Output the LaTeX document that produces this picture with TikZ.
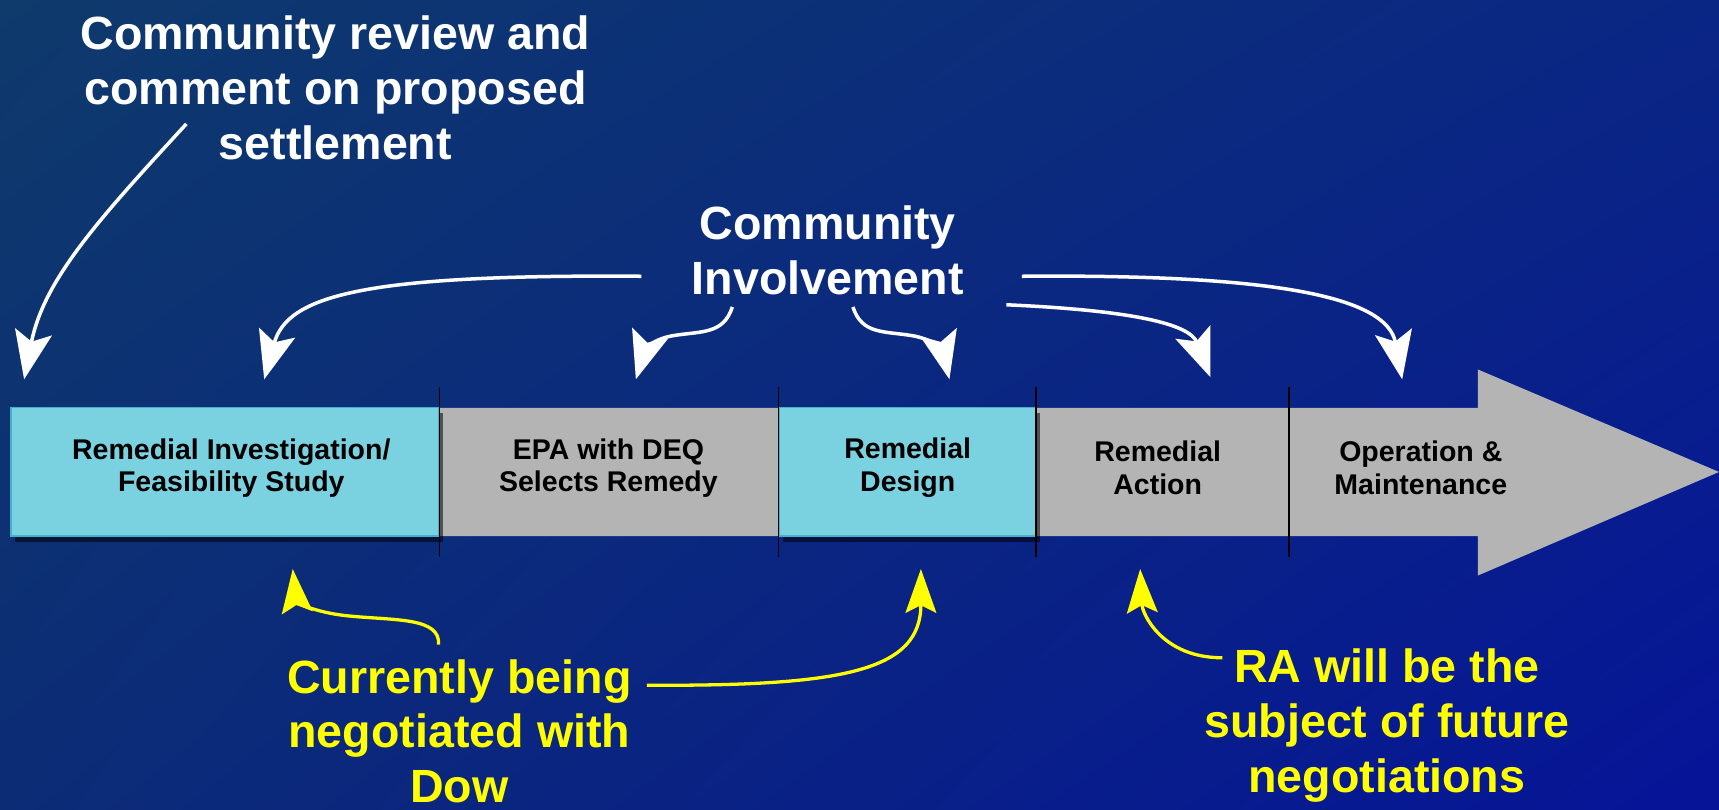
\documentclass[tikz,border=0pt]{standalone}
\usepackage{fontspec}
\setmainfont{Liberation Sans}
\usetikzlibrary{arrows.meta,shadows,shadings,calc}
\definecolor{bgTL}{RGB}{14,58,108}
\definecolor{bgTR}{RGB}{10,38,132}
\definecolor{bgBL}{RGB}{12,44,118}
\definecolor{bgBR}{RGB}{6,20,152}
\definecolor{cyanfill}{RGB}{122,209,224}
\definecolor{cyanedge}{RGB}{70,175,205}
\definecolor{barGray}{RGB}{180,180,180}
\definecolor{ylw}{RGB}{255,255,0}
\tikzset{
  bigtext/.style={font=\bfseries\fontsize{42.5}{50}\selectfont, align=center, inner sep=0pt},
  whitetext/.style={bigtext, text=white},
  yellowtext/.style={bigtext, text=ylw},
  boxtext/.style={font=\bfseries\fontsize{26}{30}\selectfont, align=center, text=black, inner sep=0pt},
  cyanbox/.style={fill=cyanfill, draw=cyanedge, line width=1.2pt, minimum height=117pt, inner sep=0pt,
     drop shadow={shadow xshift=4pt, shadow yshift=-5pt, opacity=0.55, fill=black}},
  graybox/.style={minimum height=117pt, inner sep=0pt},
  divider/.style={draw=black, line width=1.6pt},
  warrow/.style={draw=white, line width=3.2pt, -{Stealth[length=44pt,width=34pt,inset=9pt]}},
  yarrow/.style={draw=ylw, line width=3pt, -{Stealth[length=40pt,width=28pt,inset=7pt]}},
}
\begin{document}
\begin{tikzpicture}[x=1pt,y=-1pt]
\useasboundingbox (0,0) rectangle (1568,738);
\shade[upper left=bgTL, upper right=bgTR, lower left=bgBL, lower right=bgBR] (0,0) rectangle (1568,738);

% grey arrow body
\fill[barGray] (400,372) -- (1348,372) -- (1348,337) -- (1568,430.5) -- (1348,525) -- (1348,489) -- (400,489) -- cycle;

% stages
\node[cyanbox, minimum width=390pt] (ri) at (205,430.5) {};
\node[graybox, minimum width=310pt] (epa) at (555.5,430.5) {};
\node[cyanbox, minimum width=234pt] (rd) at (827.5,430.5) {};
\node[graybox, minimum width=231pt] (ra) at (1060.5,430.5) {};
\node[graybox, minimum width=172pt] (om) at (1262,430.5) {};

\node[boxtext] (riT) at (211,427) {Remedial Investigation/\\Feasibility Study};
\node[boxtext] (epaT) at (555,427) {EPA with DEQ\\Selects Remedy};
\node[boxtext] (rdT) at (828,427) {Remedial\\Design};
\node[boxtext] (raT) at (1056,427) {Remedial\\Action};
\node[boxtext] (omT) at (1296,427) {Operation \&\\Maintenance};

% dividers
\draw[divider] (401,353) -- (401,508);
\draw[divider] (710,353) -- (710,508);
\draw[divider] (945,353) -- (945,508);
\draw[divider] (1176,353) -- (1176,508);

% texts
\node[whitetext] (crc) at (306,80) {Community review and\\comment on proposed\\settlement};
\node[whitetext] (ci) at (755,228) {Community\\Involvement};
\node[yellowtext] (neg) at (419,667) {Currently being\\negotiated with\\Dow};
\node[yellowtext] (fut) at (1265,662) {RA will be the\\subject of future\\negotiations};

% coordinates
\coordinate (s1) at (170,113);  \coordinate (t1) at (22,346);
\coordinate (s2) at (585,252);  \coordinate (t2) at (241,346);
\coordinate (s3) at (668,280);  \coordinate (t3) at (580,346);
\coordinate (s4) at (778,280);  \coordinate (t4) at (866,346);
\coordinate (s5) at (918,278);  \coordinate (t5) at (1104,344);
\coordinate (s6) at (932,252);  \coordinate (t6) at (1279,346);
\coordinate (s7) at (400,588);  \coordinate (t7) at (267,519);
\coordinate (s8) at (590,625);  \coordinate (t8) at (840,519);
\coordinate (s9) at (1115,600); \coordinate (t9) at (1040,519);

% white arrows
\draw[warrow] (s1) .. controls (90,200) and (40,255) .. (t1);
\draw[warrow] (s2) .. controls (330,250) and (262,270) .. (t2);
\draw[warrow] (s3) .. controls (660,305) and (640,302) .. (615,306) .. controls (595,309) and (588,320) .. (t3);
\draw[warrow] (s4) .. controls (786,305) and (806,302) .. (831,306) .. controls (851,309) and (860,320) .. (t4);
\draw[warrow] (s5) .. controls (1030,283) and (1085,295) .. (t5);
\draw[warrow] (s6) .. controls (1160,250) and (1265,270) .. (t6);

% yellow arrows
\draw[yarrow] (s7) .. controls (402,563) and (360,566) .. (320,562) .. controls (285,559) and (270,548) .. (t7);
\draw[yarrow] (s8) .. controls (770,626) and (840,612) .. (t8);
\draw[yarrow] (s9) .. controls (1060,600) and (1042,560) .. (t9);
\end{tikzpicture}
\end{document}
